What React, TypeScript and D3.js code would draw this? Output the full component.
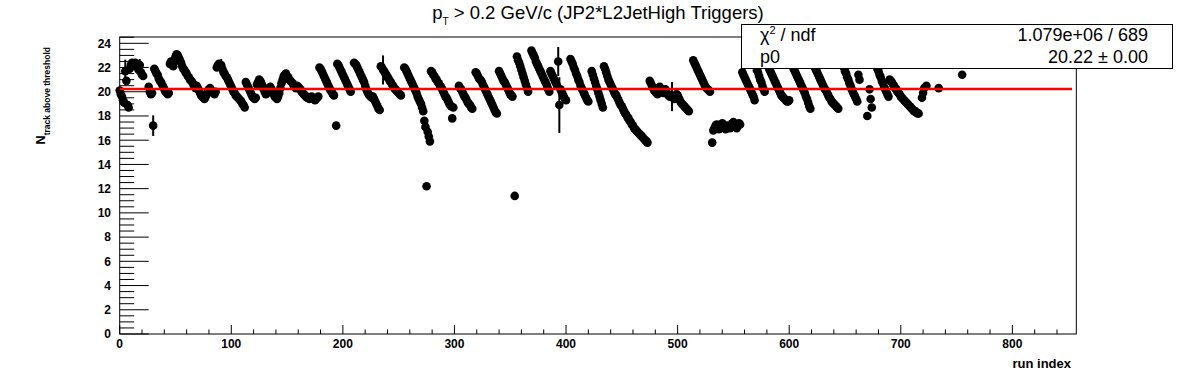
import React from 'react';
import * as d3 from 'd3';

const WIDTH = 1196;
const HEIGHT = 372;

const FRAME = { left: 119.7, right: 1076.3, top: 37, bottom: 334 };

const X_MAX = 857.3;
const Y_MAX = 24.52;

const TITLE_MAIN = 'p';
const TITLE_SUB = 'T';
const TITLE_REST = ' > 0.2 GeV/c (JP2*L2JetHigh Triggers)';
const X_TITLE = 'run index';
const Y_TITLE = 'N';
const Y_TITLE_SUB = 'track above threshold';

const xTicks = [0, 100, 200, 300, 400, 500, 600, 700, 800];
const yTicks = [0, 2, 4, 6, 8, 10, 12, 14, 16, 18, 20, 22, 24];

// runs of consecutive run indices: [first index, values]
const segments: [number, number[]][] = [
  [0, [20.1, 19.8, 19.6, 19.3, 19.1, 21.7, 20.9, 18.9, 18.7, 21.9, 22.2, 22.4, 22.3, 22.2, 22.4, 22.1, 22.0, 21.8, 22.2, 21.6, 21.4, 21.3]],
  [26, [
    20.4, 20.0, 19.8, 19.9, 17.2,
    21.9, 21.7, 21.5, 21.4, 21.1, 20.9, 20.8, 20.6, 20.4, 20.2, 20.0, 19.9, 19.8, 19.9,
    22.3, 22.5, 22.3, 22.1, 22.6, 22.9, 23.1, 23.0, 22.8, 22.6, 22.4,
    22.1, 21.9, 21.8, 21.6, 21.5, 21.3, 21.2, 21.0, 20.9, 20.8, 20.6, 20.5, 20.3,
    20.5, 20.3, 20.1, 19.9, 19.7, 19.6, 19.5, 19.4, 19.6, 19.8, 20.0, 20.2, 20.3, 20.1, 20.0, 19.9, 19.8, 20.0,
    22.0, 22.2, 22.3, 22.1, 22.2, 21.9,
    21.6, 21.5, 21.3,
    21.2, 21.0, 20.8, 20.6, 20.4, 20.2, 20.0, 19.9, 19.7, 19.6, 19.5, 19.4, 19.3, 19.2, 19.0, 18.9, 18.7,
    20.8, 20.6, 20.4, 20.2, 20.0, 19.8, 19.6, 19.5, 19.4, 19.5,
    20.6, 20.8, 21.0, 20.9, 20.7, 20.5, 20.2, 20.0, 19.8, 19.9, 20.1, 20.3, 20.4, 20.2, 20.0, 19.8, 19.6, 19.5, 19.4, 19.6, 19.9, 20.3, 20.7, 21.0, 21.3,
    21.4, 21.5, 21.3, 21.2, 21.0, 20.9, 20.8, 20.7, 20.5, 20.4, 20.3,
    20.5, 20.4, 20.3, 20.2, 20.0, 19.9, 19.8, 19.7, 19.6, 19.5, 19.5, 19.4, 19.5, 19.6, 19.5, 19.4, 19.3, 19.4, 19.5, 19.6,
    22.0, 21.9, 21.7, 21.5, 21.3, 21.1, 20.9, 20.7, 20.5, 20.3, 20.1, 20.0, 19.8, 19.7,
  ]],
  [194, [17.2, 22.3, 22.2, 22.0, 21.8, 21.6, 21.4, 21.2, 21.0, 20.8, 20.6, 20.4, 20.2, 20.0]],
  [210, [
    22.4, 22.3, 22.2, 22.0, 21.8, 21.6, 21.4, 21.2, 21.0, 20.8,
    20.5, 20.2, 20.0, 19.8, 19.7, 19.6, 19.5,
    19.6, 19.4, 19.2, 19.0, 18.8, 18.6, 18.5,
    22.1, 22.0, 21.8, 21.7, 21.5, 21.4, 21.2, 21.1, 20.9, 20.8, 20.6, 20.5, 20.3, 20.2, 20.1, 20.0, 19.9, 19.8, 19.7,
  ]],
  [255, [
    22.0, 21.9, 21.7, 21.5, 21.3, 21.1, 20.9, 20.7, 20.5, 20.3, 20.1, 19.9, 19.6, 19.4, 19.2, 19.0, 18.7, 18.4,
    17.6, 17.1, 12.2, 16.7, 16.3, 15.9,
    21.7, 21.6, 21.4, 21.3, 21.1, 21.0, 20.8, 20.7, 20.5, 20.4, 20.2, 20.0, 19.8, 19.6,
    19.5, 19.3, 19.1, 18.9, 18.8, 17.8, 18.7,
  ]],
  [304, [20.5, 20.3, 20.2, 20.0, 19.8, 19.6, 19.5, 19.3, 19.1, 19.0, 18.9, 18.7, 18.6]],
  [319, [21.6, 21.5, 21.3, 21.1, 21.0, 20.9, 20.7, 20.5, 20.3, 20.1, 19.9, 19.7, 19.5, 19.3, 19.1, 18.9, 18.7, 18.5, 18.3, 18.2]],
  [340, [21.7, 21.5, 21.3, 21.1, 20.9, 20.8, 20.6, 20.4, 20.2, 20.0, 19.8, 19.7, 19.6]],
  [354, [11.4]],
  [356, [22.9, 22.6, 22.4, 22.1, 21.8, 21.5, 21.2, 20.9, 20.6, 20.3, 20.0]],
  [369, [
    23.4, 23.2, 23.0, 22.8, 22.5, 22.3, 22.1, 21.9, 21.7, 21.5, 21.3, 21.1, 20.9, 20.7, 20.5, 20.2, 20.0,
    21.7, 21.5, 21.3, 21.1, 20.9, 20.7, 20.5, 22.5, 18.9, 20.2, 20.0, 19.8, 19.6, 19.4, 19.3,
  ]],
  [404, [22.7, 22.5, 22.3, 22.0, 21.8, 21.5, 21.3, 21.0, 20.8, 20.5, 20.3, 20.1, 19.9, 19.7, 19.5, 19.3, 19.2]],
  [423, [
    21.7, 21.4, 21.1, 20.8, 20.5, 20.2, 19.9, 19.6, 19.3, 19.0, 18.7,
    22.1, 21.9, 21.6, 21.3, 21.0, 20.8, 20.6, 20.4, 20.2, 20.0, 19.8, 19.7, 19.5, 19.3, 19.1, 18.9, 18.8, 18.6, 18.4, 18.2,
    18.1, 17.9, 17.8, 17.6, 17.5, 17.3, 17.2, 17.0, 16.9, 16.8, 16.7, 16.6, 16.5, 16.4, 16.3, 16.2, 16.1, 16.0, 15.9, 15.8,
  ]],
  [475, [
    20.9, 20.7, 20.5, 20.3, 20.1, 20.0, 19.9, 19.8,
    20.3, 20.4, 20.2, 20.0, 19.9, 20.1, 20.2, 20.0, 19.8, 19.7, 19.6, 19.7, 19.6, 19.5, 19.4, 19.6, 19.8, 19.7, 19.5, 19.3,
    19.1, 19.0, 18.9, 18.8, 18.7, 18.6, 18.5, 18.4,
  ]],
  [514, [22.6, 22.4, 22.2, 22.0, 21.8, 21.6, 21.4, 21.2, 21.0, 20.8, 20.6, 20.4, 20.3, 20.2, 20.1, 20.0]],
  [531, [
    15.8, 16.8, 17.0, 17.2, 17.3, 17.1, 16.9, 17.0, 17.2, 17.4, 17.3, 17.1, 16.9, 17.0, 17.2, 17.1, 17.0, 17.2, 17.4, 17.5,
    17.3, 17.1, 17.0, 17.2, 17.4, 17.3,
  ]],
  [558, [21.6, 21.4, 21.2, 21.0, 20.8, 20.6, 20.4, 20.2, 20.0, 19.8, 19.6, 19.3]],
  [571, [21.8, 21.6, 21.3, 21.0, 20.8, 20.5, 20.2, 20.0]],
  [580, [
    22.3, 22.1, 21.9, 21.7, 21.5, 21.3, 21.1, 20.9, 20.7, 20.5, 20.3, 20.1, 19.9, 19.7, 19.6, 19.5, 19.4, 19.3, 19.2, 19.2, 19.3,
    22.5, 22.3, 22.1, 21.9, 21.7, 21.5, 21.3, 21.1, 20.9, 20.7, 20.5, 20.3, 20.1, 19.9, 19.6, 19.4, 19.1, 18.8, 18.6,
    22.6, 22.4, 22.2, 22.0, 21.8, 21.6, 21.4, 21.2, 21.0, 20.8, 20.6, 20.4, 20.2, 20.1, 19.9, 19.7, 19.5, 19.4, 19.2, 19.1,
    19.0, 18.9, 18.8, 18.7, 18.6,
  ]],
  [648, [22.2, 22.0, 21.7, 21.5, 21.2, 21.0, 20.7, 20.5, 20.2, 20.0, 19.8, 19.6, 19.4, 19.2, 21.4, 21.0]],
  [670, [18.0]],
  [672, [20.2, 19.4, 18.7]],
  [677, [
    22.4, 22.2, 21.9, 21.7, 21.4, 21.2, 20.9, 20.7, 20.4, 20.2, 20.0, 19.8, 19.6,
    21.0, 20.9, 20.8, 20.6, 20.5, 20.3, 20.2, 20.0, 19.9, 19.8, 19.6, 19.5, 19.4, 19.3, 19.2, 19.1, 19.0, 18.9, 18.8, 18.7,
    18.6, 18.5, 18.4, 18.4, 18.3, 18.2, 18.2,
  ]],
  [719, [19.5, 19.9, 20.3]],
  [723, [20.5]],
  [734, [20.3]],
  [755, [21.4]],
];

// visible error bars: [run index, error]
const errorBars: [number, number][] = [
  [5, 0.95], [6, 0.3], [18, 0.5], [30, 0.85], [91, 0.5],
  [236, 1.2], [393, 1.2], [394, 2.3], [495, 1.2],
];

const fitValue = 20.22;
const fitRange = [0, 853.5];

const statsRows = [
  { label: 'χ', sup: '2', rest: ' / ndf', value: '1.079e+06 / 689' },
  { label: 'p0', sup: '', rest: '', value: '20.22 ± 0.00' },
];

const FONT = '"Liberation Sans", Arial, Helvetica, sans-serif';

export default function App() {
  const x = d3.scaleLinear().domain([0, X_MAX]).range([FRAME.left, FRAME.right]);
  const y = d3.scaleLinear().domain([0, Y_MAX]).range([FRAME.bottom, FRAME.top]);

  const points = segments.flatMap(([start, vals]) => vals.map((v, i) => ({ run: start + i, v })));
  const errLookup = new Map(errorBars);

  const yMinor = d3.range(0, Y_MAX, 0.5).filter(t => t % 2 !== 0);
  const xMinor = d3.range(0, X_MAX, 20).filter(t => t % 100 !== 0);

  return (
    <svg
      width={WIDTH}
      height={HEIGHT}
      style={{ position: 'absolute', left: 0, top: 0, background: '#fff' }}
      fontFamily={FONT}
    >
      <rect x={0} y={0} width={WIDTH} height={HEIGHT} fill="#fff" />

      {/* frame */}
      <rect
        x={FRAME.left}
        y={FRAME.top}
        width={FRAME.right - FRAME.left}
        height={FRAME.bottom - FRAME.top}
        fill="none"
        stroke="#000"
        strokeWidth={1}
      />

      {/* y axis ticks */}
      {yTicks.map(t => (
        <g key={'yt' + t}>
          <line x1={FRAME.left} x2={FRAME.left + 29} y1={y(t)} y2={y(t)} stroke="#000" />
          <text x={111} y={y(t)} dy="0.36em" textAnchor="end" fontSize={12} fontWeight="bold">{t}</text>
        </g>
      ))}
      {yMinor.map(t => (
        <line key={'ym' + t} x1={FRAME.left} x2={FRAME.left + 14.5} y1={y(t)} y2={y(t)} stroke="#000" />
      ))}

      {/* x axis ticks */}
      {xTicks.map(t => (
        <g key={'xt' + t}>
          <line x1={x(t)} x2={x(t)} y1={FRAME.bottom} y2={FRAME.bottom - 9} stroke="#000" />
          <text x={x(t)} y={347.5} textAnchor="middle" fontSize={12} fontWeight="bold">{t}</text>
        </g>
      ))}
      {xMinor.map(t => (
        <line key={'xm' + t} x1={x(t)} x2={x(t)} y1={FRAME.bottom} y2={FRAME.bottom - 4.5} stroke="#000" />
      ))}

      {/* axis titles */}
      <text x={1071} y={368} textAnchor="end" fontSize={13} fontWeight="bold">{X_TITLE}</text>
      <text transform="translate(45,47) rotate(-90)" textAnchor="end" fontSize={12.5} fontWeight="bold">
        {Y_TITLE}
        <tspan fontSize={8.5} dy={5}>{Y_TITLE_SUB}</tspan>
      </text>

      {/* error bars */}
      {points.filter(p => errLookup.has(p.run)).map(p => {
        const e = errLookup.get(p.run) as number;
        return (
          <line
            key={'e' + p.run}
            x1={x(p.run)}
            x2={x(p.run)}
            y1={y(p.v - e)}
            y2={y(p.v + e)}
            stroke="#000"
            strokeWidth={2}
          />
        );
      })}

      {/* markers */}
      {points.map(p => (
        <circle key={'p' + p.run} cx={x(p.run)} cy={y(p.v)} r={4.3} fill="#000" />
      ))}

      {/* fit */}
      <line
        x1={x(fitRange[0])}
        x2={x(fitRange[1])}
        y1={y(fitValue)}
        y2={y(fitValue)}
        stroke="#ff0000"
        strokeWidth={2.5}
      />

      {/* stats box */}
      <rect x={741.5} y={24.5} width={431} height={44} fill="#fff" stroke="#000" strokeWidth={1} />
      {statsRows.map((r, i) => (
        <g key={'s' + i}>
          <text x={760} y={41 + i * 22} fontSize={18}>
            {r.label}
            {r.sup && <tspan fontSize={11} dy={-7}>{r.sup}</tspan>}
            {r.rest && <tspan dy={r.sup ? 7 : 0}>{r.rest}</tspan>}
          </text>
          <text x={1148} y={41 + i * 22} fontSize={18} textAnchor="end">{r.value}</text>
        </g>
      ))}

      {/* title */}
      <text x={598} y={18.5} textAnchor="middle" fontSize={18.5}>
        {TITLE_MAIN}
        <tspan fontSize={10} dy={6}>{TITLE_SUB}</tspan>
        <tspan dy={-6}>{TITLE_REST}</tspan>
      </text>
    </svg>
  );
}
